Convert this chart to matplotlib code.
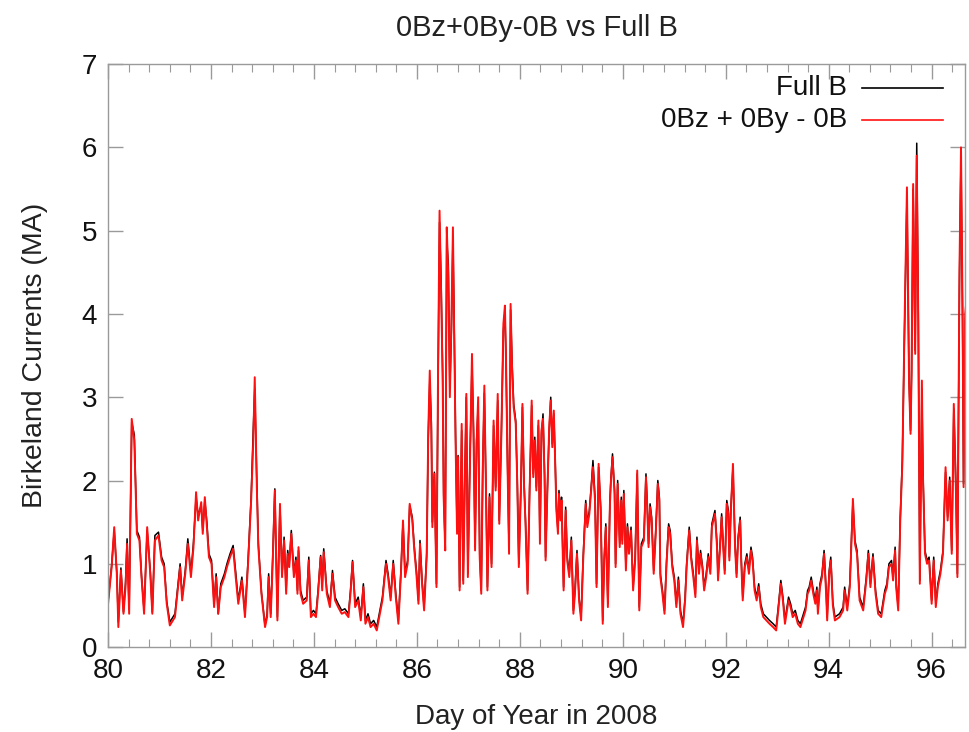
import matplotlib
matplotlib.use("Agg")
import matplotlib.pyplot as plt
from matplotlib.ticker import MultipleLocator

plt.rcParams['font.family'] = ['Liberation Sans', 'DejaVu Sans']

# day of year (turning points of the hourly series)
days = [
    80.00, 80.07, 80.12, 80.17, 80.20, 80.25, 80.30, 80.34, 80.37, 80.41,
    80.46, 80.51, 80.56, 80.61, 80.65, 80.70, 80.76, 80.82, 80.86, 80.91,
    80.98, 81.04, 81.09, 81.14, 81.20, 81.30, 81.40, 81.44, 81.50, 81.55,
    81.61, 81.66, 81.71, 81.75, 81.81, 81.84, 81.88, 81.92, 81.96, 82.01,
    82.06, 82.10, 82.14, 82.19, 82.26, 82.31, 82.37, 82.43, 82.48, 82.53,
    82.60, 82.66, 82.72, 82.78, 82.82, 82.85, 82.89, 82.92, 82.98, 83.05,
    83.09, 83.12, 83.16, 83.20, 83.24, 83.29, 83.34, 83.38, 83.42, 83.46,
    83.49, 83.52, 83.56, 83.61, 83.65, 83.68, 83.70, 83.74, 83.79, 83.86,
    83.90, 83.94, 83.99, 84.04, 84.08, 84.13, 84.16, 84.19, 84.25, 84.31,
    84.36, 84.41, 84.47, 84.54, 84.60, 84.67, 84.71, 84.75, 84.80, 84.86,
    84.91, 84.96, 85.00, 85.05, 85.10, 85.16, 85.22, 85.28, 85.33, 85.40,
    85.44, 85.49, 85.54, 85.59, 85.64, 85.69, 85.73, 85.77, 85.82, 85.86,
    85.91, 85.95, 85.99, 86.03, 86.06, 86.10, 86.14, 86.19, 86.22, 86.25,
    86.28, 86.30, 86.34, 86.38, 86.41, 86.44, 86.47, 86.50, 86.52, 86.55,
    86.58, 86.61, 86.64, 86.67, 86.70, 86.72, 86.75, 86.78, 86.80, 86.83,
    86.87, 86.90, 86.93, 86.96, 86.99, 87.03, 87.07, 87.10, 87.13, 87.16,
    87.19, 87.22, 87.25, 87.28, 87.31, 87.34, 87.37, 87.41, 87.45, 87.49,
    87.53, 87.57, 87.60, 87.64, 87.68, 87.71, 87.73, 87.76, 87.79, 87.82,
    87.85, 87.88, 87.92, 87.95, 87.98, 88.02, 88.05, 88.08, 88.11, 88.15,
    88.19, 88.23, 88.26, 88.29, 88.32, 88.36, 88.39, 88.42, 88.45, 88.48,
    88.50, 88.53, 88.57, 88.60, 88.63, 88.66, 88.69, 88.71, 88.74, 88.76,
    88.79, 88.81, 88.85, 88.89, 88.92, 88.96, 89.00, 89.04, 89.07, 89.11,
    89.15, 89.19, 89.23, 89.28, 89.31, 89.35, 89.39, 89.42, 89.46, 89.49,
    89.53, 89.57, 89.61, 89.64, 89.67, 89.71, 89.75, 89.77, 89.80, 89.84,
    89.86, 89.90, 89.94, 89.97, 89.99, 90.02, 90.06, 90.09, 90.12, 90.16,
    90.20, 90.24, 90.28, 90.32, 90.36, 90.41, 90.45, 90.47, 90.50, 90.53,
    90.56, 90.60, 90.64, 90.68, 90.71, 90.73, 90.77, 90.81, 90.85, 90.89,
    90.92, 90.96, 91.00, 91.04, 91.08, 91.12, 91.17, 91.21, 91.24, 91.29,
    91.33, 91.37, 91.41, 91.44, 91.48, 91.51, 91.55, 91.58, 91.62, 91.66,
    91.70, 91.73, 91.79, 91.83, 91.85, 91.89, 91.92, 91.95, 91.98, 92.02,
    92.05, 92.07, 92.10, 92.14, 92.18, 92.21, 92.24, 92.28, 92.30, 92.33,
    92.37, 92.41, 92.45, 92.49, 92.52, 92.56, 92.60, 92.64, 92.68, 92.73,
    92.79, 92.85, 92.92, 92.98, 93.02, 93.07, 93.11, 93.15, 93.18, 93.22,
    93.26, 93.30, 93.35, 93.40, 93.45, 93.51, 93.55, 93.59, 93.62, 93.66,
    93.70, 93.74, 93.77, 93.79, 93.83, 93.87, 93.91, 93.95, 93.97, 94.01,
    94.04, 94.08, 94.12, 94.21, 94.28, 94.31, 94.36, 94.41, 94.45, 94.47,
    94.51, 94.55, 94.60, 94.67, 94.73, 94.77, 94.81, 94.86, 94.91, 94.96,
    95.02, 95.09, 95.13, 95.17, 95.22, 95.25, 95.29, 95.31, 95.35, 95.39,
    95.43, 95.47, 95.52, 95.56, 95.59, 95.61, 95.64, 95.68, 95.71, 95.74,
    95.77, 95.81, 95.83, 95.87, 95.91, 95.95, 96.00, 96.04, 96.08, 96.12,
    96.17, 96.22, 96.27, 96.31, 96.35, 96.39, 96.43, 96.47, 96.50, 96.54,
    96.57, 96.60, 96.62, 96.65, 96.69,
]

# Birkeland currents (MA), full IMF
full_b = [
    0.55, 0.98, 1.40, 0.90, 0.30, 0.95, 0.42, 0.78, 1.30, 0.45,
    2.70, 2.55, 1.40, 1.32, 0.86, 0.44, 1.40, 0.92, 0.42, 1.34,
    1.38, 1.08, 1.00, 0.55, 0.30, 0.40, 1.00, 0.60, 0.92, 1.30,
    0.88, 1.26, 1.80, 1.58, 1.70, 1.40, 1.76, 1.50, 1.12, 1.04,
    0.52, 0.88, 0.40, 0.76, 0.88, 1.00, 1.12, 1.22, 0.90, 0.56,
    0.84, 0.40, 1.04, 1.80, 2.60, 3.10, 2.00, 1.24, 0.66, 0.26,
    0.40, 0.88, 0.40, 1.10, 1.90, 0.36, 1.70, 0.88, 1.32, 0.68,
    1.16, 1.00, 1.40, 0.88, 1.08, 0.68, 1.16, 0.68, 0.56, 0.60,
    1.08, 0.40, 0.44, 0.40, 0.68, 1.10, 0.72, 1.18, 0.68, 0.52,
    0.92, 0.60, 0.52, 0.44, 0.46, 0.40, 0.68, 1.04, 0.52, 0.60,
    0.36, 0.76, 0.32, 0.40, 0.28, 0.32, 0.24, 0.44, 0.60, 1.04,
    0.88, 0.60, 1.04, 0.64, 0.32, 0.92, 1.50, 0.88, 1.04, 1.70,
    1.56, 1.20, 0.92, 0.56, 1.28, 0.80, 0.48, 1.12, 2.50, 3.20,
    2.70, 1.50, 2.10, 0.76, 3.10, 5.10, 4.40, 3.30, 1.84, 1.20,
    4.90, 4.60, 3.10, 3.80, 4.90, 4.10, 2.60, 1.40, 2.30, 0.72,
    2.60, 0.80, 2.00, 3.00, 0.88, 2.24, 3.40, 2.60, 1.20, 2.48,
    2.90, 1.12, 0.68, 2.20, 3.05, 2.00, 0.72, 1.84, 1.00, 2.66,
    1.92, 2.96, 1.52, 2.56, 3.80, 4.02, 3.50, 2.24, 1.16, 4.05,
    3.40, 2.92, 2.72, 2.00, 1.00, 1.92, 2.88, 2.00, 1.52, 0.68,
    1.92, 2.90, 2.08, 2.52, 1.92, 2.66, 1.28, 2.56, 2.80, 2.08,
    1.08, 1.80, 2.60, 3.00, 2.44, 2.80, 2.16, 1.68, 1.40, 1.88,
    1.56, 1.80, 0.72, 1.68, 1.08, 0.88, 1.32, 0.44, 0.68, 1.16,
    0.60, 0.36, 1.08, 1.76, 1.48, 1.64, 1.96, 2.24, 1.80, 0.76,
    2.16, 1.68, 0.32, 1.08, 1.48, 0.52, 1.76, 2.04, 2.32, 1.88,
    1.00, 2.00, 1.24, 1.80, 1.28, 1.88, 0.96, 1.48, 1.16, 1.44,
    0.72, 1.08, 2.08, 0.48, 1.24, 1.32, 2.08, 1.80, 1.24, 1.72,
    1.56, 0.92, 1.40, 2.00, 1.80, 0.88, 0.68, 0.44, 1.04, 1.48,
    1.40, 1.00, 0.84, 0.52, 0.84, 0.44, 0.28, 0.60, 1.00, 1.44,
    1.08, 0.88, 0.64, 1.32, 0.92, 1.16, 0.96, 0.72, 0.88, 1.12,
    0.92, 1.48, 1.64, 1.24, 0.84, 1.24, 1.60, 1.24, 0.92, 1.76,
    1.64, 1.08, 1.68, 2.16, 1.24, 0.88, 1.32, 1.56, 1.08, 0.60,
    1.00, 1.12, 0.92, 1.20, 1.08, 0.72, 0.60, 0.76, 0.52, 0.40,
    0.36, 0.32, 0.28, 0.24, 0.48, 0.80, 0.60, 0.32, 0.44, 0.60,
    0.52, 0.40, 0.44, 0.32, 0.28, 0.40, 0.48, 0.68, 0.72, 0.84,
    0.68, 0.56, 0.72, 0.44, 0.76, 0.88, 1.16, 0.68, 0.36, 0.92,
    1.08, 0.54, 0.36, 0.40, 0.48, 0.72, 0.48, 0.76, 1.44, 1.74,
    1.28, 1.16, 0.60, 0.48, 0.84, 1.16, 0.76, 1.12, 0.68, 0.44,
    0.40, 0.68, 0.76, 1.00, 1.04, 0.84, 1.20, 0.76, 0.48, 1.56,
    2.24, 3.70, 5.40, 3.24, 2.60, 3.32, 5.50, 3.56, 6.05, 4.00,
    0.80, 3.10, 2.12, 1.16, 1.04, 1.08, 0.56, 1.08, 0.52, 0.76,
    0.92, 1.16, 2.10, 1.56, 2.04, 1.16, 2.86, 1.96, 0.88, 4.40,
    5.90, 3.90, 1.96, 3.92, 4.10,
]

# Birkeland currents (MA), 0Bz + 0By - 0B
zero_sum = [
    0.52, 0.96, 1.44, 0.88, 0.24, 0.92, 0.40, 0.72, 1.24, 0.40,
    2.74, 2.48, 1.36, 1.28, 0.84, 0.40, 1.44, 0.88, 0.40, 1.28,
    1.34, 1.04, 0.96, 0.52, 0.26, 0.36, 0.96, 0.56, 0.88, 1.24,
    0.84, 1.20, 1.86, 1.52, 1.74, 1.36, 1.80, 1.44, 1.08, 1.00,
    0.48, 0.84, 0.40, 0.72, 0.84, 0.96, 1.08, 1.18, 0.84, 0.52,
    0.80, 0.36, 1.00, 1.76, 2.44, 3.24, 1.92, 1.20, 0.64, 0.24,
    0.36, 0.84, 0.36, 1.04, 1.88, 0.32, 1.72, 0.84, 1.28, 0.64,
    1.12, 0.96, 1.36, 0.84, 1.04, 0.64, 1.20, 0.64, 0.52, 0.56,
    1.04, 0.36, 0.40, 0.36, 0.64, 1.08, 0.68, 1.14, 0.64, 0.48,
    0.88, 0.56, 0.48, 0.40, 0.42, 0.36, 0.64, 1.02, 0.48, 0.56,
    0.32, 0.72, 0.28, 0.36, 0.24, 0.28, 0.20, 0.40, 0.56, 1.00,
    0.84, 0.56, 1.00, 0.60, 0.28, 0.88, 1.52, 0.84, 1.00, 1.72,
    1.52, 1.16, 0.88, 0.52, 1.24, 0.76, 0.44, 1.08, 2.56, 3.32,
    2.60, 1.44, 2.08, 0.72, 3.24, 5.24, 4.28, 3.24, 1.80, 1.16,
    5.04, 4.44, 3.00, 3.88, 5.04, 3.96, 2.52, 1.36, 2.28, 0.68,
    2.68, 0.76, 1.96, 3.04, 0.84, 2.20, 3.52, 2.56, 1.16, 2.44,
    3.00, 1.08, 0.64, 2.16, 3.14, 1.96, 0.68, 1.80, 0.96, 2.72,
    1.88, 3.04, 1.48, 2.52, 3.88, 4.10, 3.48, 2.20, 1.12, 4.12,
    3.32, 2.88, 2.68, 1.96, 0.96, 1.88, 2.92, 1.96, 1.48, 0.64,
    1.88, 2.96, 2.04, 2.48, 1.88, 2.72, 1.24, 2.60, 2.74, 2.04,
    1.04, 1.76, 2.64, 2.96, 2.40, 2.84, 2.12, 1.64, 1.36, 1.84,
    1.52, 1.76, 0.68, 1.64, 1.04, 0.84, 1.28, 0.40, 0.64, 1.12,
    0.56, 0.32, 1.04, 1.72, 1.44, 1.60, 1.92, 2.16, 1.76, 0.72,
    2.20, 1.64, 0.28, 1.04, 1.44, 0.48, 1.72, 2.00, 2.28, 1.84,
    0.96, 1.96, 1.20, 1.76, 1.24, 1.84, 0.92, 1.44, 1.12, 1.40,
    0.68, 1.04, 2.12, 0.44, 1.20, 1.28, 2.04, 1.76, 1.20, 1.68,
    1.52, 0.88, 1.36, 1.96, 1.76, 0.84, 0.64, 0.40, 1.00, 1.44,
    1.36, 0.96, 0.80, 0.48, 0.80, 0.40, 0.24, 0.56, 0.96, 1.40,
    1.04, 0.84, 0.60, 1.28, 0.88, 1.12, 0.92, 0.68, 0.84, 1.08,
    0.88, 1.44, 1.60, 1.20, 0.80, 1.20, 1.56, 1.20, 0.88, 1.72,
    1.60, 1.04, 1.64, 2.20, 1.20, 0.84, 1.28, 1.52, 1.04, 0.56,
    0.96, 1.08, 0.88, 1.16, 1.04, 0.68, 0.56, 0.72, 0.48, 0.36,
    0.32, 0.28, 0.24, 0.20, 0.44, 0.76, 0.56, 0.28, 0.40, 0.56,
    0.48, 0.36, 0.40, 0.28, 0.24, 0.36, 0.44, 0.64, 0.68, 0.80,
    0.64, 0.52, 0.68, 0.40, 0.72, 0.84, 1.12, 0.64, 0.32, 0.88,
    1.04, 0.50, 0.32, 0.36, 0.44, 0.68, 0.44, 0.72, 1.40, 1.78,
    1.24, 1.12, 0.56, 0.44, 0.80, 1.12, 0.72, 1.08, 0.64, 0.40,
    0.36, 0.64, 0.72, 0.96, 1.00, 0.80, 1.16, 0.72, 0.44, 1.52,
    2.20, 3.76, 5.52, 3.20, 2.56, 3.28, 5.56, 3.52, 5.90, 3.92,
    0.76, 3.20, 2.08, 1.12, 1.00, 1.04, 0.52, 1.04, 0.48, 0.72,
    0.88, 1.12, 2.16, 1.52, 2.00, 1.12, 2.92, 1.92, 0.84, 4.52,
    6.00, 4.08, 1.92, 4.00, 4.24,
]

series_labels = ['Full B', '0Bz + 0By - 0B']
series_colors = ['#000000', '#ff1010']

fig = plt.figure(figsize=(9.69, 7.32), dpi=100)
ax = fig.add_axes([0.1115, 0.116, 0.8845, 0.7965])

ax.plot(days, full_b, color=series_colors[0], lw=1.1)
ax.plot(days, zero_sum, color=series_colors[1], lw=1.4)

ax.set_xlim(80, 96.65)
ax.set_ylim(0, 7)
ax.xaxis.set_major_locator(MultipleLocator(2))
ax.xaxis.set_minor_locator(MultipleLocator(0.4))
ax.yaxis.set_major_locator(MultipleLocator(1))

frame = '#9a9a9a'
for s in ax.spines.values():
    s.set_color(frame)
    s.set_linewidth(1.0)
ax.tick_params(which='both', direction='in', top=True, right=True, color=frame,
               labelsize=20, labelcolor='#111111')
ax.tick_params(which='major', length=11, width=1.0, pad=8)
ax.tick_params(which='minor', length=6, width=0.8)

ax.set_xlabel('Day of Year in 2008', fontsize=20, color='#222222', labelpad=14)
ax.set_ylabel('Birkeland Currents (MA)', fontsize=20.5, color='#222222', labelpad=24)
ax.set_title('0Bz+0By-0B vs Full B', fontsize=21, color='#222222', pad=20)

# gnuplot-style key: right-aligned text followed by the line sample
for i, (lab, col) in enumerate(zip(series_labels, series_colors)):
    yk = 0.959 - i * 0.055
    ax.plot([0.88, 0.974], [yk, yk], color=col, lw=1.2, transform=ax.transAxes)
    ax.text(0.862, yk, lab, ha='right', va='center', fontsize=20,
            color='#111111', transform=ax.transAxes)

fig.savefig('out.png', dpi=100)
